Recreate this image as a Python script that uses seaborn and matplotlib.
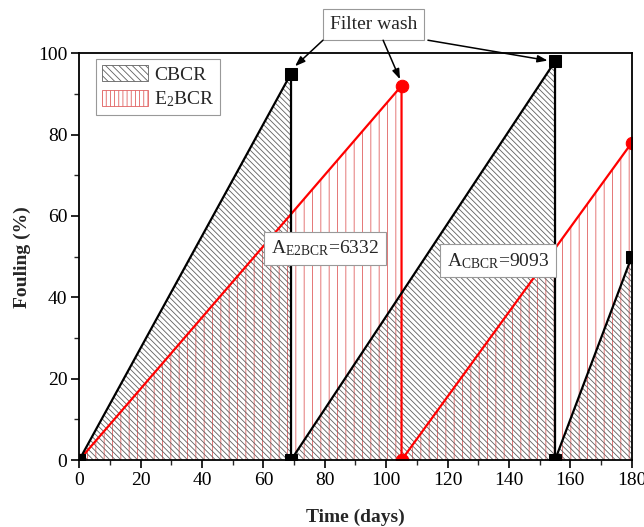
import matplotlib
matplotlib.use("Agg")
import matplotlib.pyplot as plt
import seaborn as sns
from matplotlib.patches import Patch
from matplotlib.ticker import MultipleLocator

# =========================
# Data
# =========================

cbcr_time = [0, 69, 69, 155, 155, 180]
cbcr_fouling = [0, 95, 0, 98, 0, 50]

e2bcr_time = [0, 105, 105, 180]
e2bcr_fouling = [0, 92, 0, 78]

legend_labels = ["CBCR", "E$_2$BCR"]
area_labels = ["A$_{\\mathregular{E2BCR}}$=6332", "A$_{\\mathregular{CBCR}}$=9093"]
area_pos = [(80, 52), (136.5, 49)]

wash_label = "Filter wash"
wash_pos = (96, 107)
wash_starts = [(79.4, 103.2), (99, 103.2), (113.6, 103.2)]
wash_targets = [(70.3, 96.8), (104.5, 93.6), (152.6, 98.2)]

# =========================
# Style
# =========================

sns.set_theme(style="ticks")
plt.rcParams["font.family"] = ["Liberation Serif", "DejaVu Serif"]
plt.rcParams["mathtext.fontset"] = "custom"
plt.rcParams["mathtext.rm"] = "Liberation Serif"
plt.rcParams["mathtext.it"] = "Liberation Serif"
plt.rcParams["hatch.linewidth"] = 0.6

fig = plt.figure(figsize=(6.44, 5.27), dpi=100)
ax = fig.add_axes([0.123, 0.127, 0.858, 0.772])

# =========================
# Fills
# =========================

ax.fill_between(
    e2bcr_time, e2bcr_fouling, 0,
    facecolor="none", edgecolor="#e06060",
    hatch="||", linewidth=0
)

ax.fill_between(
    cbcr_time, cbcr_fouling, 0,
    facecolor="none", edgecolor="#606060",
    hatch="\\\\\\\\\\\\", linewidth=0
)

# =========================
# Lines
# =========================

sns.lineplot(
    x=e2bcr_time, y=e2bcr_fouling,
    estimator=None, sort=False,
    color="red", marker="o", markersize=9,
    markeredgecolor="red", linewidth=1.6, ax=ax
)

sns.lineplot(
    x=cbcr_time, y=cbcr_fouling,
    estimator=None, sort=False,
    color="black", marker="s", markersize=8,
    markeredgecolor="black", linewidth=1.6, ax=ax
)

# =========================
# Annotations
# =========================

for txt, pos in zip(area_labels, area_pos):
    ax.text(
        pos[0], pos[1], txt,
        ha="center", va="center", fontsize=14,
        bbox=dict(boxstyle="square,pad=0.35", fc="white", ec="#999999", lw=0.8)
    )

ax.text(
    wash_pos[0], wash_pos[1], wash_label,
    ha="center", va="center", fontsize=14, clip_on=False,
    bbox=dict(boxstyle="square,pad=0.35", fc="white", ec="#999999", lw=0.8)
)

for start, target in zip(wash_starts, wash_targets):
    ax.annotate(
        "", xy=target, xytext=start,
        annotation_clip=False,
        arrowprops=dict(arrowstyle="-|>,head_length=0.5,head_width=0.18",
                        color="black", lw=1.1, shrinkA=0, shrinkB=0)
    )

# =========================
# Legend
# =========================

handles = [
    Patch(facecolor="white", edgecolor="#606060", hatch="\\\\\\\\\\", linewidth=0.6),
    Patch(facecolor="white", edgecolor="#e06060", hatch="||||", linewidth=0.6),
]

leg = ax.legend(
    handles, legend_labels,
    loc="upper left", bbox_to_anchor=(0.03, 0.985),
    fontsize=14, fancybox=False, framealpha=1,
    edgecolor="#999999", handlelength=2.4, handleheight=0.9,
    handletextpad=0.3, borderpad=0.3, labelspacing=0.3,
    borderaxespad=0
)
leg.get_frame().set_linewidth(0.8)

# =========================
# Axes
# =========================

ax.set_xlim(0, 180)
ax.set_ylim(0, 100)
ax.xaxis.set_major_locator(MultipleLocator(20))
ax.xaxis.set_minor_locator(MultipleLocator(10))
ax.yaxis.set_major_locator(MultipleLocator(20))
ax.yaxis.set_minor_locator(MultipleLocator(10))

ax.tick_params(which="major", direction="out", length=6, width=1.2,
               labelsize=14, colors="black", pad=2.5)
ax.tick_params(which="minor", direction="out", length=3.5, width=1.0)

for sp in ax.spines.values():
    sp.set_visible(True)
    sp.set_linewidth(1.3)
    sp.set_color("black")

ax.set_xlabel("Time (days)", fontsize=14, fontweight="bold", labelpad=14)
ax.set_ylabel("Fouling (%)", fontsize=14, fontweight="bold", labelpad=5)

plt.savefig("out.png", dpi=100)
